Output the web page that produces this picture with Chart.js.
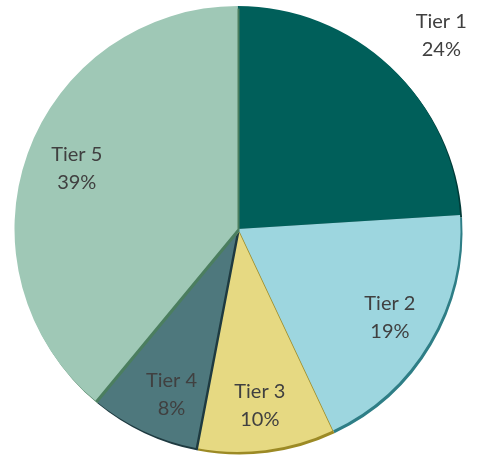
<!DOCTYPE html>
<html>
<head>
<meta charset="utf-8">
<script src="https://cdn.jsdelivr.net/npm/chart.js@4/dist/chart.umd.min.js"></script>
<style>
html,body{margin:0;padding:0;background:#fff;}
#wrap{width:477px;height:459px;position:relative;}
</style>
</head>
<body>
<div id="wrap"><canvas id="c"></canvas></div>
<script>
const categories = ["Tier 1", "Tier 2", "Tier 3", "Tier 4", "Tier 5"];
const shares = [24, 19, 10, 8, 39];

const fillColors = ["#005F5A", "#9DD6DF", "#E6D982", "#4E787D", "#9FC8B6"];
const edgeColors = ["#003B38", "#2E7E86", "#9C8A25", "#1E3A40", "#4B7E5F"];
const labelRadius = [1.26, 0.79, 0.8, 0.8, 0.77];
const labelTurnDeg = [3.3, -0.5, 0, -3.5, 0.8];

const shadowPlugin = {
  id: "edgeShadow",
  beforeDatasetDraw(chart, args) {
    const ctx = chart.ctx;
    args.meta.data.forEach((arc, i) => {
      ctx.save();
      ctx.shadowColor = edgeColors[i];
      ctx.shadowOffsetX = 2;
      ctx.shadowOffsetY = 2.5;
      ctx.shadowBlur = 0;
      arc.draw(ctx, chart.chartArea);
      ctx.restore();
    });
    return false;
  }
};

const labelPlugin = {
  id: "sliceLabels",
  afterDatasetsDraw(chart) {
    const ctx = chart.ctx;
    const meta = chart.getDatasetMeta(0);
    ctx.save();
    ctx.fillStyle = "#404040";
    ctx.font = "20px Lato, 'Open Sans', sans-serif";
    ctx.textAlign = "center";
    ctx.textBaseline = "middle";
    meta.data.forEach((arc, i) => {
      const p = arc.getProps(["x", "y", "startAngle", "endAngle", "outerRadius"], true);
      const mid = (p.startAngle + p.endAngle) / 2 + labelTurnDeg[i] * Math.PI / 180;
      const r = p.outerRadius * labelRadius[i];
      const x = p.x + Math.cos(mid) * r;
      const y = p.y + Math.sin(mid) * r;
      ctx.fillText(categories[i], x, y - 14);
      ctx.fillText(shares[i] + "%", x, y + 14);
    });
    ctx.restore();
  }
};

new Chart(document.getElementById("c"), {
  type: "pie",
  data: {
    labels: categories,
    datasets: [{
      data: shares,
      backgroundColor: fillColors,
      borderWidth: 0
    }]
  },
  options: {
    responsive: true,
    maintainAspectRatio: false,
    animation: false,
    layout: { padding: { top: 6, bottom: 7, left: 8, right: 10 } },
    plugins: { legend: { display: false }, tooltip: { enabled: false } }
  },
  plugins: [shadowPlugin, labelPlugin]
});
</script>
</body>
</html>
